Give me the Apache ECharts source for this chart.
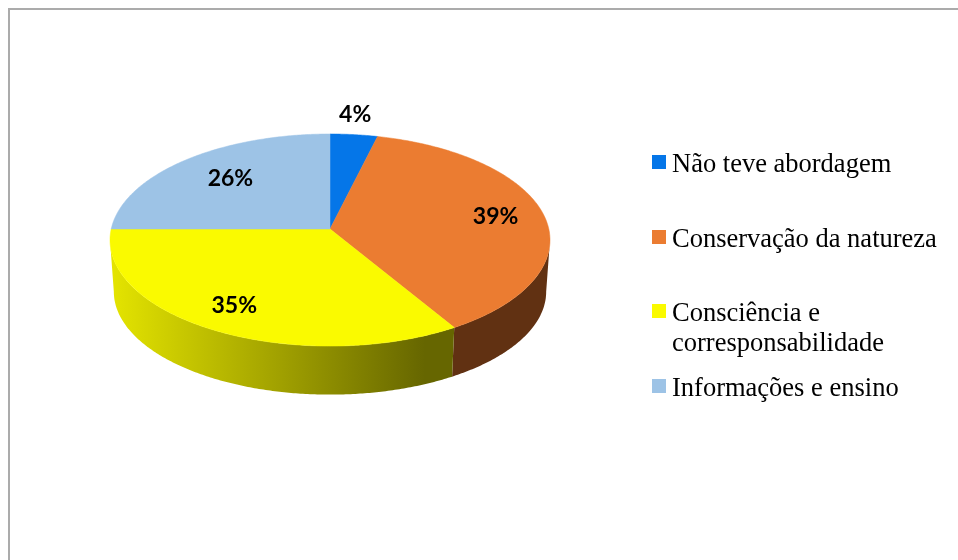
<!DOCTYPE html>
<html>
<head>
<meta charset="utf-8">
<style>html,body{margin:0;padding:0;background:#fff}#chart{width:958px;height:560px}</style>
<script src="https://cdn.jsdelivr.net/npm/echarts@6/dist/echarts.min.js"></script>
</head>
<body>
<div id="chart"></div>
<script>
// Values and names of the pie
var categories = ['Não teve abordagem', 'Conservação da natureza', 'Consciência e corresponsabilidade', 'Informações e ensino'];
var percents = [4, 39, 35, 26];
var valueLabels = ['4%', '39%', '35%', '26%'];

// Slice colours and side-wall fills
var faceColors = ['#0576E8', '#EB7C31', '#FAFA00', '#9DC3E6'];
var wallColors = ['#024080', '#613112', null, '#56708A'];

// Label placement: radial factor along each slice's middle, plus a small nudge
var labelRadius = [1.25, 0.775, 0.8, 0.69];
var labelNudge = [[-4, 1], [0, 0], [-3, -2], [2, -2]];

// Legend rows; the blank first line keeps the swatch beside the first line of text
var legendTops = [145.5, 220.5, 264.5, 369.5];
var legendText = ['{t|Não teve abordagem}', '{t|Conservação da natureza}', '{t| }\n{t|Consciência e}\n{t|corresponsabilidade}', '{t|Informações e ensino}'];

// Perspective disc: rim of the top face and of the base
var topRim = { cx: 330, cy: 229, a: 218.8, b: 104.9 };
var baseRim = { cx: 330, cy: 281, a: 215, b: 101.8 };
var tilt = 0.104;

var total = percents.reduce(function (s, v) { return s + v; }, 0);

// The side wall is only visible between the two silhouette tangents
var frontStart = Math.acos(-tilt);
var frontEnd = Math.PI * 2 - frontStart;

function project(rim, angle, r) {
  var X = Math.sin(angle) * r, Y = Math.cos(angle) * r;
  var d = 1 + tilt * Y;
  return [rim.cx + rim.a * X / d, rim.cy - rim.b * Y / d];
}

function arc(rim, from, to) {
  var n = Math.max(2, Math.ceil((to - from) / 0.01));
  var pts = [];
  for (var i = 0; i <= n; i++) pts.push(project(rim, from + (to - from) * i / n, 1));
  return pts;
}

function wallFill(idx) {
  if (wallColors[idx]) return wallColors[idx];
  return new echarts.graphic.LinearGradient(112, 0, 425, 0, [
    { offset: 0, color: '#E4E400' },
    { offset: 1, color: '#666600' }
  ], true);
}

function makeRenderItem(idx) {
  return function (params, api) {
    var before = 0;
    for (var i = 0; i < idx; i++) before += percents[i];
    var from = before / total * Math.PI * 2;
    var to = (before + api.value(0)) / total * Math.PI * 2;
    var mid = (from + to) / 2;
    var upper = arc(topRim, from, to);
    var labelAt = project(topRim, mid, labelRadius[idx]);
    var children = [
      {
        type: 'polygon', z2: 10,
        shape: { points: [[topRim.cx, topRim.cy]].concat(upper) },
        style: { fill: faceColors[idx], stroke: faceColors[idx], lineWidth: 0.5 }
      },
      {
        type: 'text', z2: 20,
        x: labelAt[0] + labelNudge[idx][0],
        y: labelAt[1] + labelNudge[idx][1],
        style: {
          text: valueLabels[idx],
          fill: '#000',
          font: 'bold 23px Lato',
          align: 'center',
          verticalAlign: 'middle'
        }
      }
    ];
    var wallFrom = Math.max(from, frontStart);
    var wallTo = Math.min(to, frontEnd);
    if (wallTo > wallFrom) {
      children.push({
        type: 'polygon', z2: 1,
        shape: { points: arc(topRim, wallFrom, wallTo).concat(arc(baseRim, wallFrom, wallTo).reverse()) },
        style: { fill: wallFill(idx) }
      });
    }
    return { type: 'group', children: children };
  };
}

var chart = echarts.init(document.getElementById('chart'), null, { renderer: 'canvas' });
chart.setOption({
  animation: false,
  backgroundColor: '#fff',
  legend: categories.map(function (name, i) {
    return {
      data: [name],
      orient: 'vertical',
      left: 652,
      top: legendTops[i],
      padding: 0,
      icon: 'rect',
      itemWidth: 14,
      itemHeight: 14,
      selectedMode: false,
      formatter: function () { return legendText[i]; },
      textStyle: {
        rich: {
          t: {
            fontFamily: 'Liberation Serif', fontSize: 26.5, lineHeight: 30, color: '#000',
            padding: [6, 0, 0, 1]
          }
        }
      }
    };
  }),
  graphic: [{
    type: 'rect',
    silent: true,
    shape: { x: 9, y: 9, width: 1100, height: 700 },
    style: { fill: 'none', stroke: '#ABABAB', lineWidth: 2 }
  }],
  series: categories.map(function (name, i) {
    return {
      type: 'custom',
      name: name,
      coordinateSystem: 'none',
      silent: true,
      itemStyle: { color: faceColors[i] },
      data: [percents[i]],
      renderItem: makeRenderItem(i)
    };
  })
});
</script>
</body>
</html>
